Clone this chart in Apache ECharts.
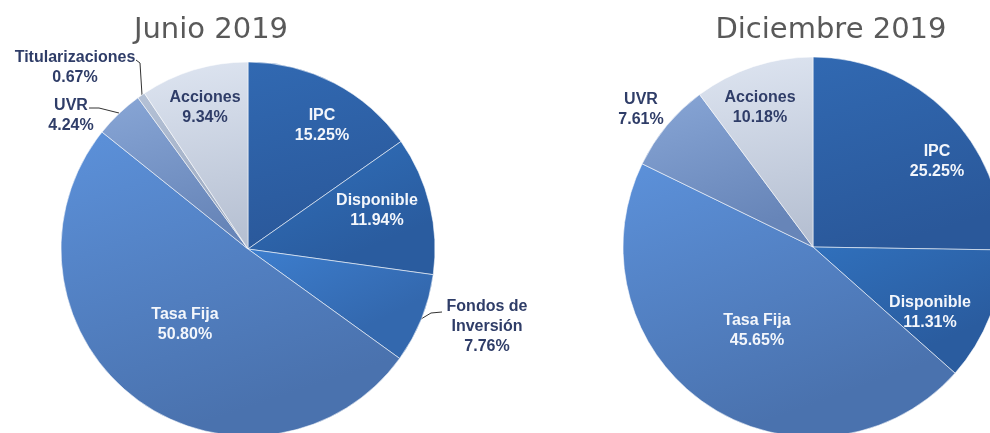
<!DOCTYPE html>
<html><head><meta charset="utf-8">
<script src="https://cdn.jsdelivr.net/npm/echarts@6/dist/echarts.min.js"></script>
<style>html,body{margin:0;padding:0;background:#fff}#c{width:990px;height:433px}</style>
</head><body><div id="c"></div>
<script>
// ---- data ----
const junCategories = ['IPC', 'Disponible', 'Fondos de Inversión', 'Tasa Fija', 'UVR', 'Titularizaciones', 'Acciones'];
const junValues = [15.25, 11.94, 7.76, 50.80, 4.24, 0.67, 9.34];
const decCategories = ['IPC', 'Disponible', 'Tasa Fija', 'UVR', 'Acciones'];
const decValues = [25.25, 11.31, 45.65, 7.61, 10.18];
const chartTitles = ['Junio 2019', 'Diciembre 2019'];

// ---- styles ----
const sliceColors = {
  'IPC': ['#3169B2', '#2A589A'],
  'Disponible': ['#3070BC', '#2A5C9F'],
  'Fondos de Inversión': ['#3D7ECE', '#3368AE'],
  'Tasa Fija': ['#5C91DA', '#4A72AE'],
  'UVR': ['#88A6D6', '#6785B8'],
  'Titularizaciones': ['#B4C1D6', '#9AA8BF'],
  'Acciones': ['#DEE5F1', '#B6C0D2']
};
const darkLabel = '#2F3D68';
const lightLabel = '#F3F6FB';
const darkTextNames = ['UVR', 'Titularizaciones', 'Acciones', 'Fondos de Inversión'];
const outsideNames = {
  jun: ['UVR', 'Titularizaciones', 'Fondos de Inversión'],
  dec: ['UVR']
};
// label text centres (pixels) and leader lines
const labelPos = {
  jun: { 'IPC': [322, 126], 'Disponible': [377, 211], 'Fondos de Inversión': [487, 327],
         'Tasa Fija': [185, 325], 'UVR': [71, 116], 'Titularizaciones': [75, 68], 'Acciones': [205, 108] },
  dec: { 'IPC': [937, 162], 'Disponible': [930, 313], 'Tasa Fija': [757, 331],
         'UVR': [641, 110], 'Acciones': [760, 108] }
};
const leaderLines = {
  jun: { 'Titularizaciones': [[142, 95], [140, 63], [136, 60]],
         'UVR': [[119, 113], [99, 108], [89, 108]],
         'Fondos de Inversión': [[421, 319], [431, 313], [442, 312]] },
  dec: {}
};
const pieGeom = {
  jun: { center: [248, 249], radius: 187 },
  dec: { center: [813, 247], radius: 190 }
};

function buildData(cats, vals, key) {
  return cats.map((name, i) => {
    const c = sliceColors[name];
    const outside = outsideNames[key].indexOf(name) >= 0;
    return {
      name: name,
      value: vals[i],
      itemStyle: {
        color: { type: 'linear', x: 0, y: 0, x2: 0.3, y2: 1,
          colorStops: [{ offset: 0, color: c[0] }, { offset: 1, color: c[1] }] }
      },
      label: {
        position: outside ? 'outside' : 'inside',
        color: darkTextNames.indexOf(name) >= 0 ? darkLabel : lightLabel
      },
      labelLine: { show: !!leaderLines[key][name] }
    };
  });
}

function makeSeries(cats, vals, key) {
  const names = cats;
  return {
    type: 'pie',
    startAngle: 90,
    clockwise: true,
    center: pieGeom[key].center,
    radius: pieGeom[key].radius,
    avoidLabelOverlap: false,
    animation: false,
    itemStyle: { borderColor: 'rgba(255,255,255,0.55)', borderWidth: 1 },
    label: {
      show: true,
      fontFamily: 'Liberation Sans, Arial, sans-serif',
      fontWeight: 'bold',
      fontSize: 16,
      lineHeight: 20,
      align: 'center',
      formatter: p => p.name.replace(' de ', ' de\n') + '\n' + p.value.toFixed(2) + '%'
    },
    labelLine: { show: true, lineStyle: { color: '#333', width: 1 }, length: 5, length2: 5 },
    labelLayout: function (params) {
      const name = names[params.dataIndex];
      const pos = labelPos[key][name];
      const res = { x: pos[0], y: pos[1], align: 'center', verticalAlign: 'middle' };
      if (leaderLines[key][name]) res.labelLinePoints = leaderLines[key][name];
      return res;
    },
    data: buildData(cats, vals, key)
  };
}

const chart = echarts.init(document.getElementById('c'), null, { renderer: 'canvas' });
chart.setOption({
  backgroundColor: '#ffffff',
  animation: false,
  title: [
    { text: chartTitles[0], left: 211, top: 16, textAlign: 'center', padding: 0,
      textStyle: { fontFamily: 'DejaVu Sans', fontWeight: 'normal', fontSize: 29, color: '#595959' } },
    { text: chartTitles[1], left: 831, top: 16, textAlign: 'center', padding: 0,
      textStyle: { fontFamily: 'DejaVu Sans', fontWeight: 'normal', fontSize: 29, color: '#595959' } }
  ],
  series: [
    makeSeries(junCategories, junValues, 'jun'),
    makeSeries(decCategories, decValues, 'dec')
  ]
});
</script>
</body></html>
